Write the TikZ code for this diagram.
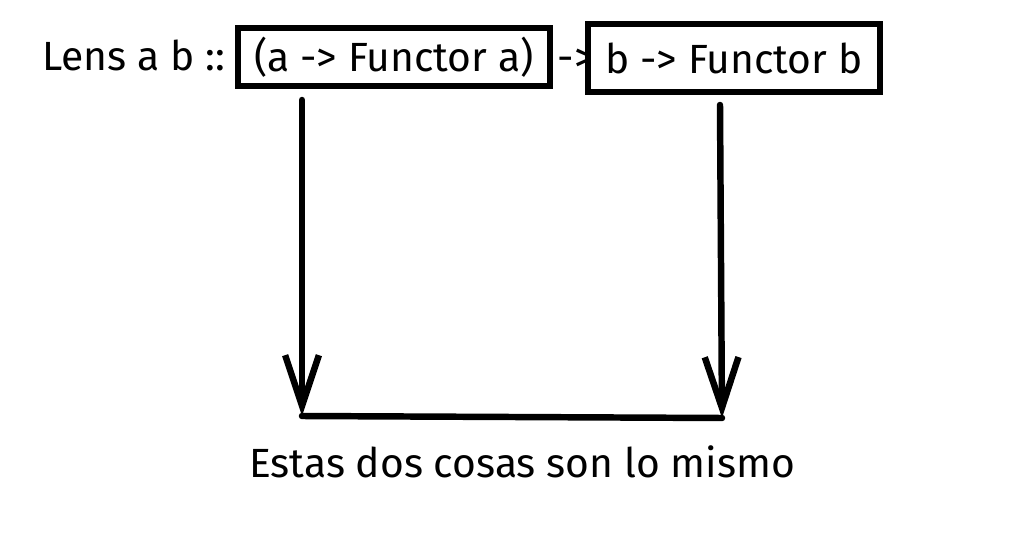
\documentclass[tikz,border=0pt]{standalone}
\usepackage{fontspec}
\setmainfont{Fira Sans}
\usetikzlibrary{arrows.meta,positioning,calc}

\begin{document}
\begin{tikzpicture}[x=0.025cm,y=-0.025cm,
  txt/.style={font=\fontsize{29}{34}\selectfont,inner sep=0pt},
  bx/.style={txt,draw,line width=3.6pt,inner sep=0pt,minimum height=58*0.025cm},
  ar/.style={-{Straight Barb[length=36pt,width=24pt,line width=4.6pt]},line width=4.6pt,line cap=round}]
  \useasboundingbox (0,0) rectangle (1014,544);
  \node[txt,anchor=base west] (lens) at (42,71) {Lens a b ::};
  \node[bx,minimum width=312*0.025cm] (fa) at (394,57) {(a -> Functor a)};
  \node[txt,anchor=base] (to) at (576,72) {->};
  \node[bx,minimum width=292*0.025cm,minimum height=68*0.025cm,fill=white] (fb) at (734,58) {b -> Functor b};
  \node[txt] (same) at (522,462) {Estas dos cosas son lo mismo};
  % arrows down to the common line
  \coordinate (l1) at (302,100);
  \coordinate (l2) at (302,416);
  \coordinate (r1) at (720,105);
  \coordinate (r2) at (722,418);
  \draw[ar] (l1) -- (l2);
  \draw[ar] (r1) -- (r2);
  \draw[line width=4.6pt,line cap=round] (l2) -- (r2);
\end{tikzpicture}
\end{document}
